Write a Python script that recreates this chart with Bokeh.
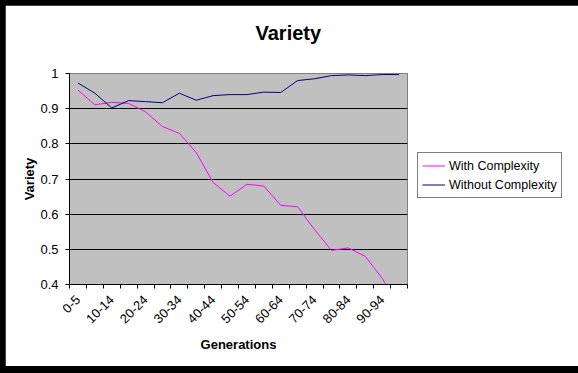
import math
from bokeh.plotting import figure
from bokeh.models import (Range1d, FixedTicker, NumeralTickFormatter, Legend,
                          LegendItem, Title)
from bokeh.layouts import column
from bokeh.embed import file_html
from bokeh.resources import INLINE

categories = ["0-5", "5-9", "10-14", "15-19", "20-24", "25-29", "30-34",
              "35-39", "40-44", "45-49", "50-54", "55-59", "60-64", "65-69",
              "70-74", "75-79", "80-84", "85-89", "90-94", "95-99"]
with_complexity = [0.953, 0.911, 0.918, 0.915, 0.891, 0.849, 0.830, 0.775,
                   0.690, 0.651, 0.685, 0.680, 0.625, 0.621, 0.556, 0.497,
                   0.504, 0.480, 0.418, 0.335]
without_complexity = [0.973, 0.944, 0.902, 0.923, 0.920, 0.917, 0.944, 0.924,
                      0.937, 0.940, 0.940, 0.947, 0.946, 0.980, 0.985, 0.994,
                      0.996, 0.994, 0.997, 0.997]
y_ticks = [0.4, 0.5, 0.6, 0.7, 0.8, 0.9, 1.0]

n = len(categories)
x_pos = [i + 0.5 for i in range(n)]
FONT = "Liberation Sans"

p = figure(frame_width=338, frame_height=211, output_backend="svg",
           toolbar_location=None, title=None,
           x_range=Range1d(0, n), y_range=Range1d(0.4, 1.0),
           min_border_left=64, min_border_right=163, min_border_top=68,
           min_border_bottom=82)

p.background_fill_color = "#C0C0C0"
p.border_fill_color = "white"
p.outline_line_color = "#808080"

# title: a blank second line lifts it well above the plot area
title = Title(text="Variety\n ", text_font=FONT, text_font_size="20px",
              text_font_style="bold", text_color="black", align="left",
              offset=186, standoff=16)
p.add_layout(title, "above")

r1 = p.line(x_pos, with_complexity, line_color="#FF00FF", line_width=1)
r2 = p.line(x_pos, without_complexity, line_color="#000080", line_width=1)

# grid
p.xgrid.visible = False
p.ygrid.ticker = FixedTicker(ticks=y_ticks[1:-1])
p.ygrid.grid_line_color = "black"
p.ygrid.grid_line_width = 1

# y axis
ya = p.yaxis[0]
ya.ticker = FixedTicker(ticks=y_ticks)
ya.formatter = NumeralTickFormatter(format="0.[0]")
ya.major_tick_in = 0
ya.major_tick_out = 4
ya.minor_tick_in = 0
ya.minor_tick_out = 0
ya.axis_line_color = "black"
ya.major_tick_line_color = "black"
ya.major_label_text_font = FONT
ya.major_label_text_font_size = "13px"
ya.major_label_text_color = "black"
ya.major_label_standoff = 7
ya.axis_label = "Variety"
ya.axis_label_text_font = FONT
ya.axis_label_text_font_size = "13px"
ya.axis_label_text_font_style = "bold"
ya.axis_label_text_color = "black"
ya.axis_label_standoff = 0

# x axis
xa = p.below[0]
xa.ticker = FixedTicker(ticks=[x_pos[i] for i in range(0, n, 2)],
                        minor_ticks=list(range(n + 1)))
xa.major_label_overrides = {x_pos[i]: categories[i] for i in range(0, n, 2)}
xa.major_tick_in = 0
xa.major_tick_out = 0
xa.minor_tick_in = 0
xa.minor_tick_out = 4
xa.minor_tick_line_color = "black"
xa.axis_line_color = "black"
xa.major_label_orientation = math.pi / 4
xa.major_label_text_font = FONT
xa.major_label_text_font_size = "13px"
xa.major_label_text_color = "black"
xa.major_label_standoff = 9
xa.axis_label = "Generations"
xa.axis_label_text_font = FONT
xa.axis_label_text_font_size = "13px"
xa.axis_label_text_font_style = "bold"
xa.axis_label_text_color = "black"
xa.axis_label_standoff = 7

legend = Legend(items=[LegendItem(label="With Complexity", renderers=[r1]),
                       LegendItem(label="Without Complexity", renderers=[r2])],
                location=(10, 86), margin=0, padding=4, spacing=2,
                glyph_width=23, glyph_height=17, label_height=17,
                label_standoff=4, label_text_font=FONT,
                label_text_font_size="12.5px", label_text_color="black",
                border_line_color="black", border_line_width=1,
                background_fill_color="white", background_fill_alpha=1)
p.add_layout(legend, "right")

layout = column(p, styles={"background-color": "black",
                           "padding": "5px 8px 7px 5px"})

open("out.html", "w").write(file_html(layout, INLINE))
